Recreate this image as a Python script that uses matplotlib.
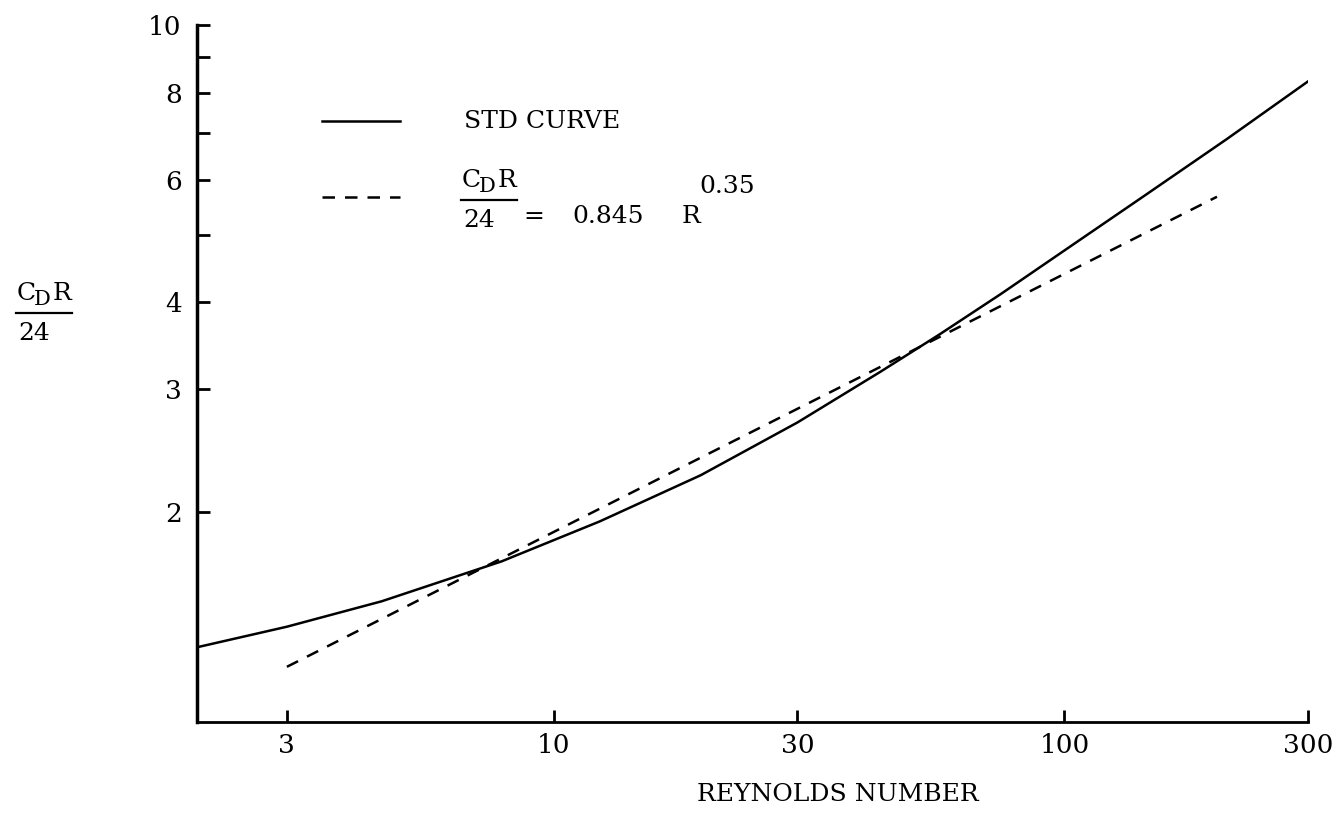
import matplotlib.pyplot as plt
from matplotlib.lines import Line2D
from matplotlib.ticker import FixedLocator, FixedFormatter, NullLocator

plt.rcParams['font.family'] = ['DejaVu Serif']

# standard drag curve, C_D*R/24 against Reynolds number
re_std = [2.0, 3.0, 4.6, 7.9, 12.3, 19.4, 30.0, 43.6, 57.0, 75.0, 98.0, 143.0, 208.0, 300.0]
cdr_std = [1.28, 1.37, 1.49, 1.70, 1.94, 2.26, 2.69, 3.18, 3.60, 4.11, 4.70, 5.68, 6.86, 8.30]

# power-law fit, C_D*R/24 = 0.845 R^0.35
re_fit = [3.0, 199.0]
cdr_fit = [1.20, 5.67]

x_ticks = [3, 10, 30, 100, 300]
x_tick_labels = ['3', '10', '30', '100', '300']
y_ticks = [2, 3, 4, 5, 6, 7, 8, 9, 10]
y_tick_labels = ['2', '3', '4', '', '6', '', '8', '', '10']

W, H = 1337, 814
FS = 18


def fx(px):
    return px / W


def fy(py):
    return 1 - py / H


fig = plt.figure(figsize=(W / 100, H / 100), dpi=100)
ax = fig.add_axes([fx(197), fy(722), (1308 - 197) / W, (722 - 25) / H])
ax.set_xscale('log')
ax.set_yscale('log')
ax.set_xlim(2, 300)
ax.set_ylim(1, 10)

ax.plot(re_std, cdr_std, color='black', lw=1.8)
ax.plot(re_fit, cdr_fit, color='black', lw=1.8, dashes=(5, 4))

ax.spines['top'].set_visible(False)
ax.spines['right'].set_visible(False)
ax.spines['left'].set_linewidth(2.5)
ax.spines['bottom'].set_linewidth(2.0)

ax.xaxis.set_major_locator(FixedLocator(x_ticks))
ax.xaxis.set_major_formatter(FixedFormatter(x_tick_labels))
ax.xaxis.set_minor_locator(NullLocator())
ax.yaxis.set_major_locator(FixedLocator(y_ticks))
ax.yaxis.set_major_formatter(FixedFormatter(y_tick_labels))
ax.yaxis.set_minor_locator(NullLocator())
ax.tick_params(axis='both', direction='in', length=9, width=2, labelsize=19)
ax.tick_params(axis='x', pad=8)
ax.tick_params(axis='y', pad=11)

# legend entries
fig.add_artist(Line2D([fx(322), fx(400)], [fy(121), fy(121)], color='black', lw=1.8))
fig.add_artist(Line2D([fx(322), fx(400)], [fy(197), fy(197)], color='black', lw=1.8,
                      dashes=(5, 4)))
fig.text(fx(464), fy(128), 'STD CURVE', fontsize=FS, va='baseline')


def cdr_over_24(x0, base):
    # C_D R stacked over 24 with a rule between
    fig.text(fx(x0), fy(base), 'C', fontsize=FS, va='baseline')
    fig.text(fx(x0 + 17), fy(base + 5), 'D', fontsize=FS - 3, va='baseline')
    fig.text(fx(x0 + 36), fy(base), 'R', fontsize=FS, va='baseline')
    fig.add_artist(Line2D([fx(x0 - 1), fx(x0 + 55)], [fy(base + 13), fy(base + 13)],
                          color='black', lw=1.6))
    fig.text(fx(x0 + 1), fy(base + 40), '24', fontsize=FS, va='baseline')


cdr_over_24(462, 187)
fig.text(fx(523), fy(223), '=', fontsize=FS, va='baseline')
fig.text(fx(572), fy(223), '0.845', fontsize=FS, va='baseline')
fig.text(fx(682), fy(223), 'R', fontsize=FS, va='baseline')
fig.text(fx(699), fy(193), '0.35', fontsize=FS, va='baseline')

# y axis label
cdr_over_24(17, 300)

fig.text(fx(838), fy(801), 'REYNOLDS NUMBER', fontsize=FS, ha='center', va='baseline')

fig.savefig('out.png', dpi=100, facecolor='white')
